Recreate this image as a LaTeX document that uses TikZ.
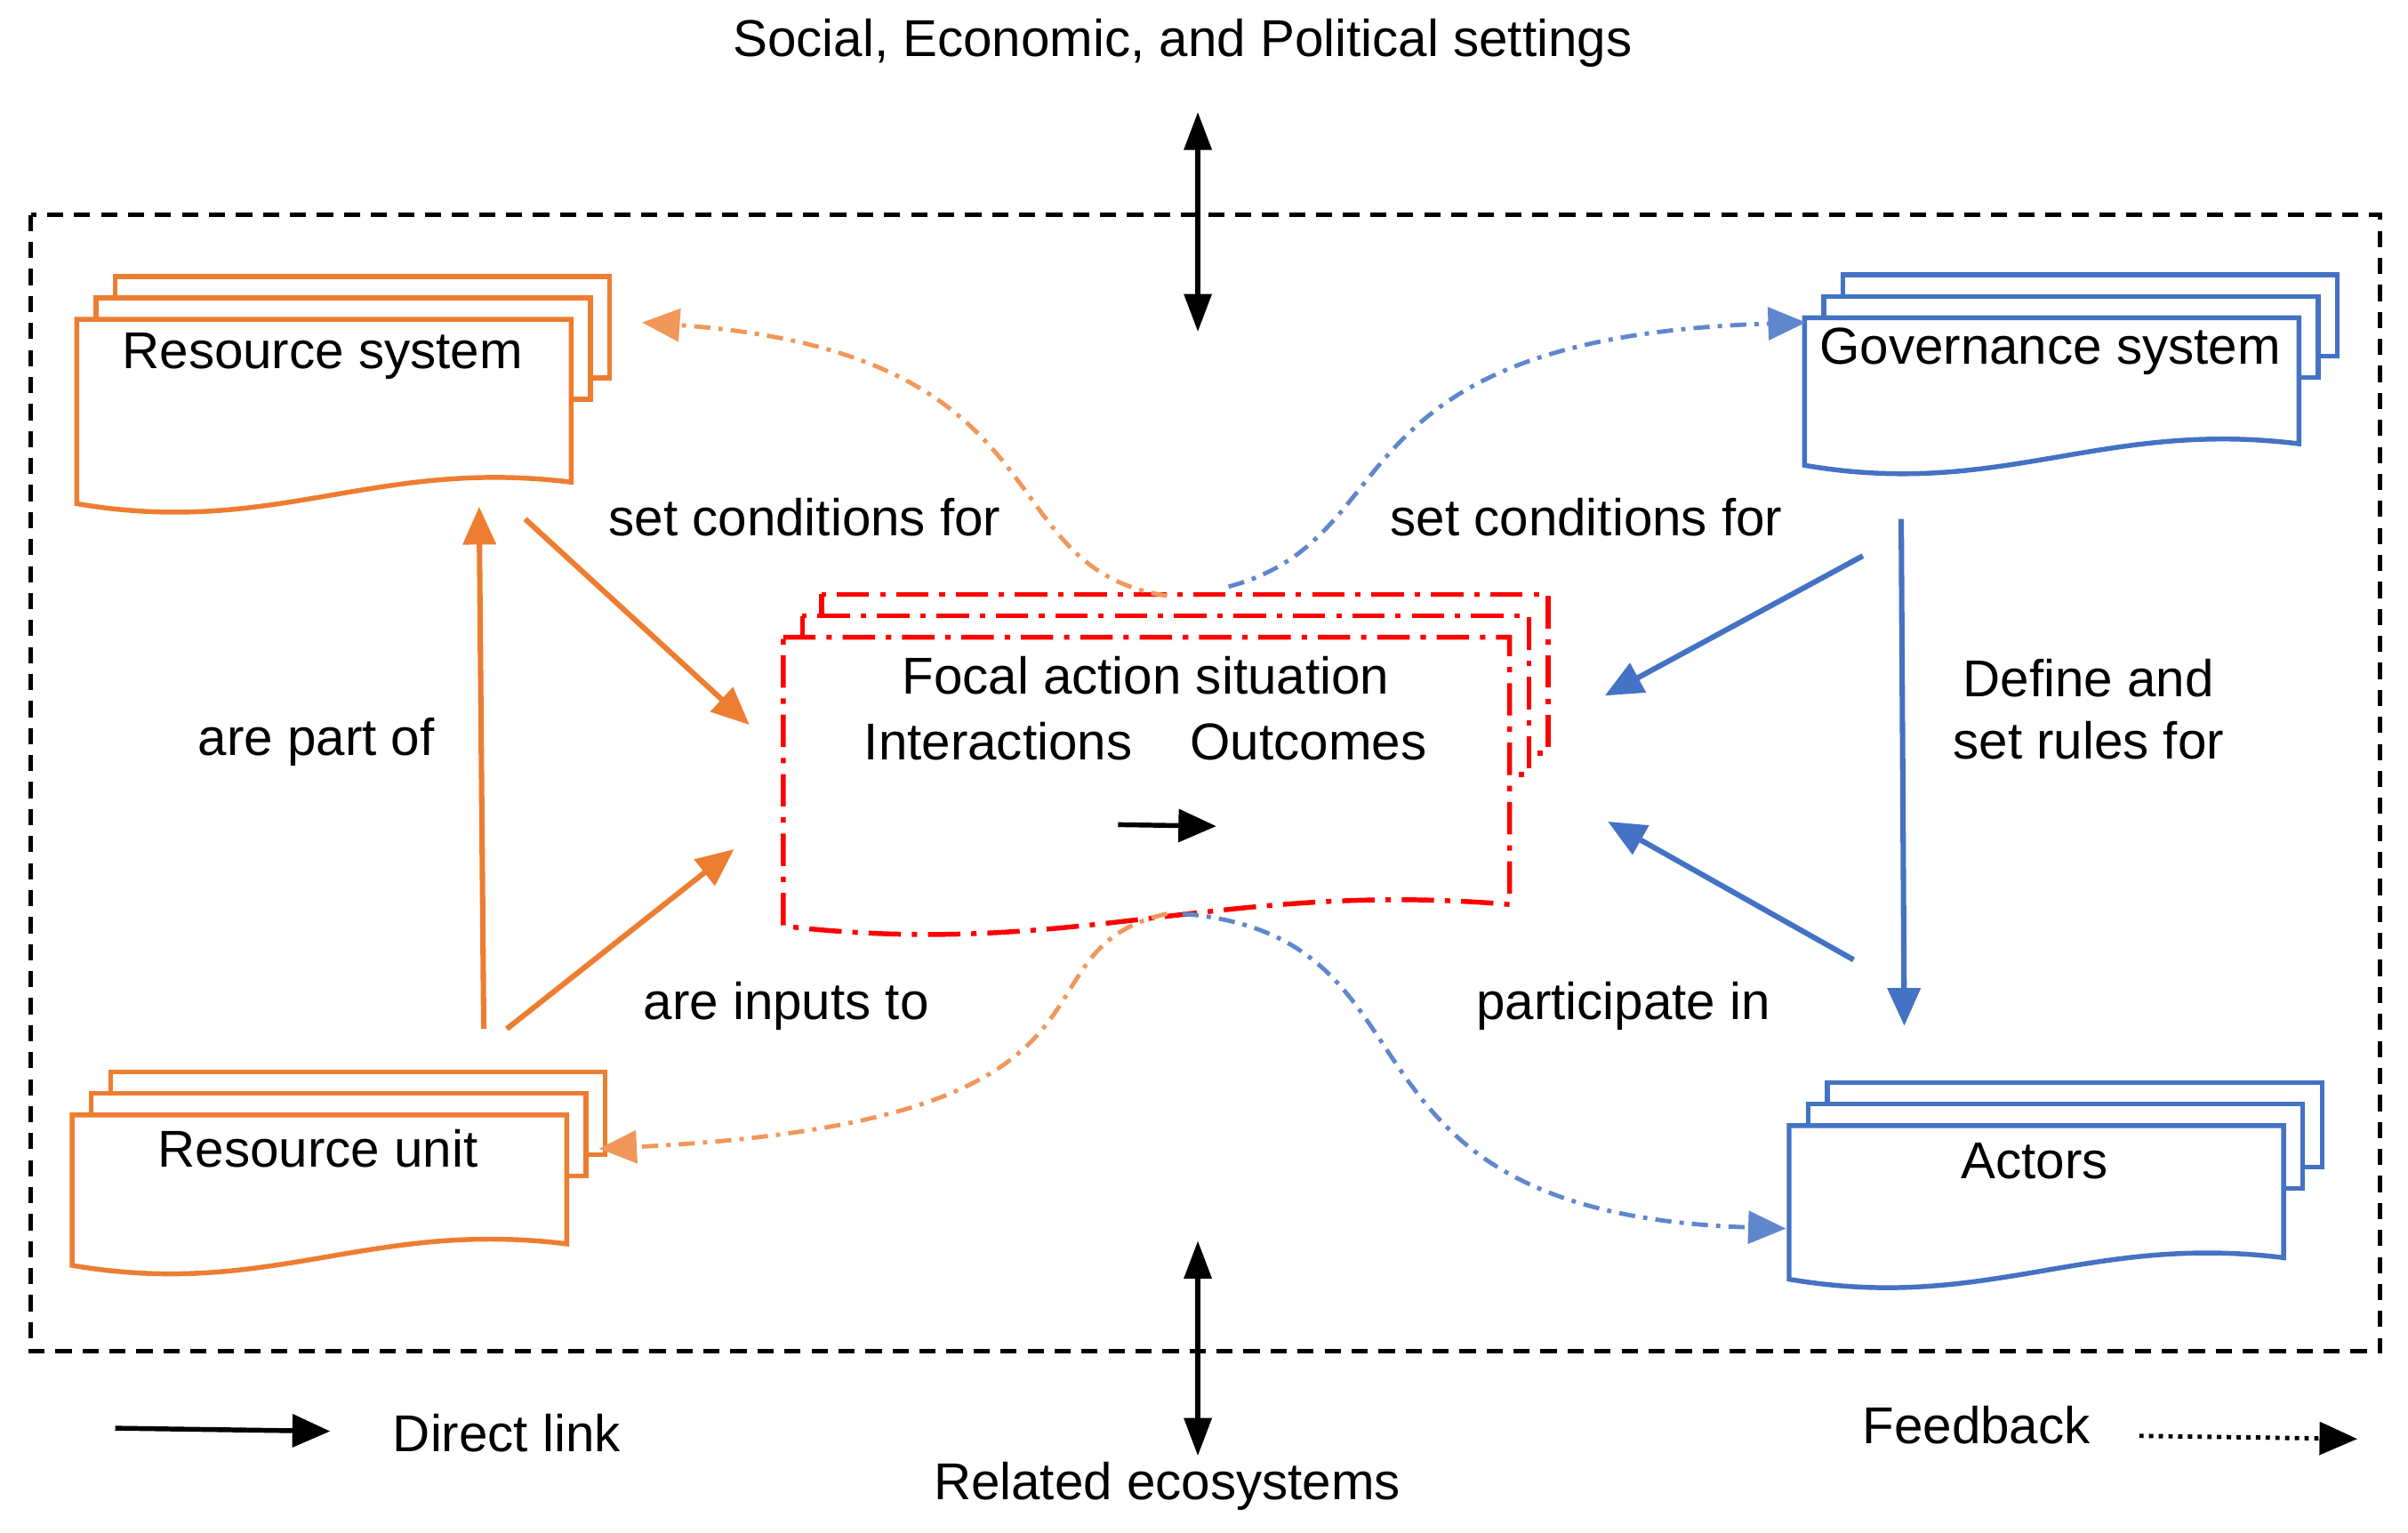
\documentclass[tikz,border=0pt]{standalone}
\usepackage{fontspec}
\setmainfont{Liberation Sans}
\usetikzlibrary{arrows.meta}
\definecolor{org}{HTML}{ED7D31}
\definecolor{blu}{HTML}{4472C4}
\newcommand{\mydoc}[6]{% x y w h color extra
  \foreach \d in {2,1}{
    \draw[#5,#6,fill=white,line width=0.9pt] (#1+\d*12.5,#2-\d*14) rectangle (#1+#3+\d*12.5,#2+#4*0.55-\d*14);
  }
  \draw[#5,#6,fill=white,line width=0.9pt] (#1,#2) -- (#1+#3,#2) -- (#1+#3,#2+#4-14)
    .. controls (#1+0.6*#3,#2+#4-30) and (#1+0.4*#3,#2+#4+22) .. (#1,#2+#4) -- cycle;
}
\begin{document}
\begin{tikzpicture}[x=0.01cm,y=-0.01cm,
  lab/.style={font=\fontsize{9.6}{11.5}\selectfont,align=center},
  tip/.style={-{Triangle[length=7pt,width=6pt]}},
  fb/.style={dash pattern=on 3pt off 1.5pt on 0.8pt off 1.5pt,line width=0.8pt}]
\useasboundingbox (0,0) rectangle (1568,998);
\draw[densely dashed,line width=0.8pt] (20,140) rectangle (1550,880);
% documents
\mydoc{50}{208}{322}{120}{org}{}
\node[lab] (rs) at (210,232) {Resource system};
\mydoc{47}{726}{322}{98}{org}{}
\node[lab] (ru) at (207,748) {Resource unit};
\mydoc{1175}{207}{322}{96}{blu}{}
\node[lab] (gs) at (1335,229) {Governance system};
\mydoc{1165}{733}{322}{100}{blu}{}
\node[lab] (ac) at (1325,756) {Actors};
\mydoc{510}{415}{473}{188}{red}{dash pattern=on 6pt off 2pt on 1pt off 2pt}
\node[lab] (fa) at (746,440) {Focal action situation};
\node[lab] (in) at (650,483) {Interactions};
\node[lab] (ou) at (852,483) {Outcomes};
\coordinate (s1) at (728,537); \coordinate (s2) at (792,538);
\draw[tip,line width=0.9pt] (s1) -- (s2);
% top/bottom
\node[lab] (top) at (770,28) {Social, Economic, and Political settings};
\node[lab] (bot) at (760,968) {Related ecosystems};
\coordinate (t1) at (780,73); \coordinate (t2) at (780,216);
\coordinate (b1) at (780,808); \coordinate (b2) at (780,948);
\draw[{Triangle[length=7pt,width=5pt]}-{Triangle[length=7pt,width=5pt]},line width=0.9pt] (t1) -- (t2);
\draw[{Triangle[length=7pt,width=5pt]}-{Triangle[length=7pt,width=5pt]},line width=0.9pt] (b1) -- (b2);
% orange arrows
\coordinate (o1a) at (315,670); \coordinate (o1b) at (312,330);
\coordinate (o2a) at (330,670); \coordinate (o2b) at (478,553);
\coordinate (o3a) at (342,338); \coordinate (o3b) at (488,472);
\draw[org,tip,line width=1pt] (o1a) -- (o1b);
\draw[org,tip,line width=1pt] (o2a) -- (o2b);
\draw[org,tip,line width=1pt] (o3a) -- (o3b);
\node[lab] (l1) at (206,483) {are part of};
\node[lab] (l2) at (512,655) {are inputs to};
\node[lab] (l3) at (524,337) {set conditions for};
% blue arrows
\coordinate (b3a) at (1213,362); \coordinate (b3b) at (1045,453);
\coordinate (b4a) at (1207,625); \coordinate (b4b) at (1047,535);
\coordinate (b5a) at (1238,338); \coordinate (b5b) at (1240,668);
\draw[blu,tip,line width=1pt] (b3a) -- (b3b);
\draw[blu,tip,line width=1pt] (b4a) -- (b4b);
\draw[blu,tip,line width=1pt] (b5a) -- (b5b);
\node[lab] (l4) at (1033,337) {set conditions for};
\node[lab] (l5) at (1360,462) {Define and\\set rules for};
\node[lab] (l6) at (1057,655) {participate in};
% feedback
\coordinate (f1a) at (760,388); \coordinate (f1b) at (418,210);
\coordinate (f2a) at (800,382); \coordinate (f2b) at (1176,210);
\coordinate (f3a) at (760,595); \coordinate (f3b) at (390,748);
\coordinate (f4a) at (770,595); \coordinate (f4b) at (1163,800);
\draw[org!80,fb,tip] (f1a) .. controls (640,370) and (700,230) .. (f1b);
\draw[blu!85,fb,tip] (f2a) .. controls (920,350) and (860,220) .. (f2b);
\draw[org!80,fb,tip] (f3a) .. controls (650,620) and (760,730) .. (f3b);
\draw[blu!85,fb,tip] (f4a) .. controls (950,610) and (850,790) .. (f4b);
% legend
\coordinate (d1) at (75,930); \coordinate (d2) at (215,932);
\draw[tip,line width=0.9pt] (d1) -- (d2);
\node[lab] (dl) at (330,933) {Direct link};
\node[lab] (fl) at (1287,928) {Feedback};
\coordinate (e1) at (1393,935); \coordinate (e2) at (1535,937);
\draw[densely dotted,tip,line width=0.8pt] (e1) -- (e2);
\end{tikzpicture}
\end{document}
